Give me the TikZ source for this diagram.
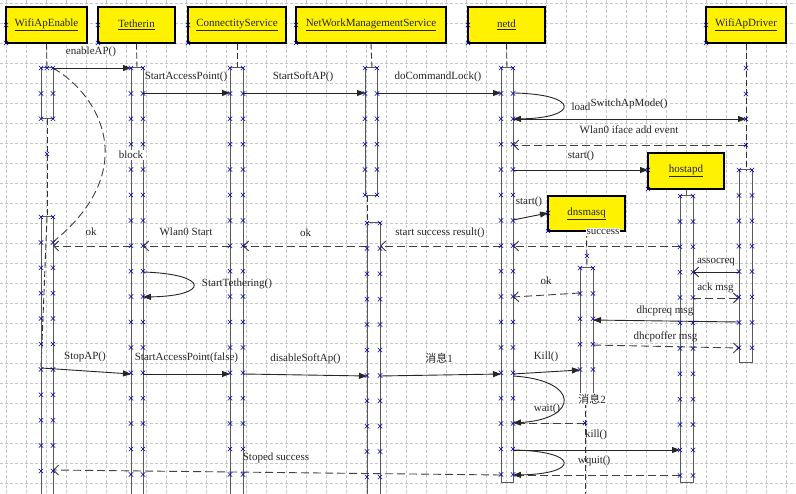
\documentclass[tikz,border=0pt]{standalone}
\usepackage{fontspec}
\setmainfont{Liberation Serif}
\newfontfamily\cjk{Noto Sans CJK SC}
\usetikzlibrary{arrows.meta}
\newcommand{\pxm}[2]{\draw[mk] (#1,#2) ++(-2.2,-2.2) -- ++(4.4,4.4) (#1,#2) ++(-2.2,2.2) -- ++(4.4,-4.4);}
\newcommand{\actmk}[4]{\foreach \k in {0,...,#4}{\pgfmathsetmacro\yy{#3+25.4*\k}\pxm{#1}{\yy}\pxm{#2}{\yy}}}
\begin{document}
\begin{tikzpicture}[x=1pt,y=-1pt,
  hdr/.style={draw=black,line width=1.1pt,fill=yellow,font=\fontsize{11}{13}\selectfont,text=black!85,inner sep=0pt},
  act/.style={draw=black!65,line width=1pt},
  life/.style={draw=black!80,line width=0.9pt,dash pattern=on 6pt off 3pt},
  call/.style={draw=black!85,line width=0.9pt,-{Triangle[length=8pt,width=6pt]}},
  openc/.style={draw=black!85,line width=0.9pt,-{Straight Barb[length=5pt,width=10pt]}},
  ret/.style={draw=black!75,line width=0.9pt,dash pattern=on 8pt off 4pt,-{Straight Barb[length=5pt,width=10pt]}},
  retn/.style={draw=black!75,line width=0.9pt,dash pattern=on 8pt off 4pt},
  lbl/.style={font=\fontsize{11}{13}\selectfont,text=black!85,inner sep=1pt},
  gridln/.style={draw=black!22,line width=0.5pt,dash pattern=on 3pt off 2pt},
  mk/.style={draw=blue!75!black,line width=0.55pt}]
\useasboundingbox (0,0) rectangle (796,494);
\fill[white] (0,0) rectangle (796,494);
% grid
\foreach \gx in {6.7,26.7,...,790} \draw[gridln] (\gx,0) -- (\gx,494);
\foreach \gy in {3.3,23.3,...,494} \draw[gridln] (0,\gy) -- (796,\gy);

% headers
\node[hdr,minimum width=81pt,minimum height=36pt] (wae) at (46.5,25) {\underline{WifiApEnable}};
\node[hdr,minimum width=77pt,minimum height=36pt] (teth) at (136.5,25) {\underline{Tetherin}};
\node[hdr,minimum width=98pt,minimum height=36pt] (cs) at (237,25) {\underline{ConnectityService}};
\node[hdr,minimum width=150pt,minimum height=36pt] (nwms) at (371,25) {\underline{NetWorkManagementService}};
\node[hdr,minimum width=77pt,minimum height=36pt] (netd) at (506.5,25) {\underline{netd}};
\node[hdr,minimum width=80pt,minimum height=36pt] (wad) at (746,25) {\underline{WifiApDriver}};
\node[hdr,minimum width=76pt,minimum height=36pt] (hostapd) at (686,171) {\underline{hostapd}};
\node[hdr,minimum width=77pt,minimum height=35pt] (dnsmasq) at (586.5,213.5) {\underline{dnsmasq}};

% lifelines (dashed parts)
\draw[life] (wae.south) -- (47,68);
\draw[life] (47,119) -- (47,217);
\draw[life] (47,217) -- (41,368);
\draw[life] (teth.south) -- (137,68);
\draw[life] (cs.south) -- (237,68);
\draw[life] (nwms.south) -- (372,68);
\draw[life] (367,196) -- (367,223);
\draw[life] (netd.south) -- (507,68);
\draw[life] (wad.south) -- (746,170);
\draw[act] (hostapd.south) -- (686,196);
\draw[life] (dnsmasq.south) -- (587,268);
\draw[life] (585,393) -- (585,494);

% activation boxes
\draw[act] (41,68) rectangle (53,119);
\draw[act] (41,494) -- (41,217) -- (53,217) -- (53,494);
\draw[act] (131,494) -- (131,68) -- (143,68) -- (143,494);
\draw[act] (230,494) -- (230,68) -- (243,68) -- (243,494);
\draw[act] (365,68) rectangle (377,196);
\draw[act] (367,494) -- (367,223) -- (380,223) -- (380,494);
\draw[act] (501,68) rectangle (513,483);
\draw[act] (739,170) rectangle (752,363);
\draw[act] (680,196) rectangle (693,483);
\draw[act] (580,393) -- (580,268) -- (593,268) -- (593,393);

% white label backgrounds
\node[lbl,fill=white] (lblock) at (131,155) {block};

% calls (solid, filled head)
\foreach \n/\xa/\ya/\xb/\yb in {c1/53/68/131/68, c2/143/93/230/93, c3/243/93/365/93, c4/377/93/501/93,
  c5/513/119/746/119, c6/513/170/648/170, c7/513/220/548/213, c8/41/368/131/374, c9/143/374/230/374,
  c10/243/374/367/376, c11/380/376/501/374, c12/513/374/580/370, c13/513/450/680/450, c14/739/322/593/320}
  {\coordinate (\n a) at (\xa,\ya); \coordinate (\n b) at (\xb,\yb); \draw[call] (\n a) -- (\n b);}
% solid open
\coordinate (o1a) at (739,272); \coordinate (o1b) at (693,272);
\draw[openc] (o1a) -- (o1b);
% returns (dashed, open head)
\foreach \n/\xa/\ya/\xb/\yb in {r1/746/145/513/145, r2/680/246/513/246, r3/501/246/380/246, r4/367/246/243/246,
  r5/230/246/143/246, r6/131/246/53/246, r7/580/293/513/297, r8/693/298/739/298, r9/593/345/739/348,
  r10/501/475/53/470}
  {\coordinate (\n a) at (\xa,\ya); \coordinate (\n b) at (\xb,\yb); \draw[ret] (\n a) -- (\n b);}
% dashed, no head
\foreach \n/\xa/\ya/\xb/\yb in {d1/585/423/513/423, d2/680/475/513/475}
  {\coordinate (\n a) at (\xa,\ya); \coordinate (\n b) at (\xb,\yb); \draw[retn] (\n a) -- (\n b);}

% self messages
\coordinate (s1a) at (513,93); \coordinate (s1b) at (513,119);
\draw[call] (s1a) .. controls (580,94) and (580,118) .. (s1b);
\coordinate (s2a) at (143,272); \coordinate (s2b) at (143,297);
\draw[call] (s2a) .. controls (210,274) and (210,296) .. (s2b);
\coordinate (s3a) at (513,376); \coordinate (s3b) at (513,423);
\draw[call] (s3a) .. controls (580,380) and (580,419) .. (s3b);
\coordinate (s4a) at (513,450); \coordinate (s4b) at (513,475);
\draw[call] (s4a) .. controls (580,451) and (580,474) .. (s4b);
\coordinate (s5a) at (53,68); \coordinate (s5b) at (53,242);
\draw[retn] (s5a) .. controls (100,95) and (142,170) .. (s5b);

% labels
\node[lbl] (t1) at (91,52) {enableAP()};
\node[lbl] (t2) at (186,77) {StartAccessPoint()};
\node[lbl] (t3) at (303,77) {StartSoftAP()};
\node[lbl] (t4) at (438,77) {doCommandLock()};
\node[lbl] (t5a) at (581,107) {load};
\node[lbl] (t5b) at (629,104) {SwitchApMode()};
\node[lbl] (t6) at (629,129.5) {Wlan0 iface add event};
\node[lbl] (t7) at (581,156) {start()};
\node[lbl] (t8) at (529,202) {start()};
\node[lbl,fill=white] (t9) at (603,232) {success};
\node[lbl] (t10) at (91,232) {ok};
\node[lbl] (t11) at (186,232) {Wlan0 Start};
\node[lbl] (t12) at (305.5,232.5) {ok};
\node[lbl] (t13) at (440,232.5) {start success result()};
\node[lbl] (t14) at (237,284) {StartTethering()};
\node[lbl] (t15) at (546,280.5) {ok};
\node[lbl] (t16) at (716,262.5) {assocreq};
\node[lbl] (t17) at (715.5,287.5) {ack msg};
\node[lbl] (t18) at (665,311) {dhcpreq msg};
\node[lbl] (t19) at (665.5,336.5) {dhcpoffer msg};
\node[lbl] (t20) at (85,356.5) {StopAP()};
\node[lbl] (t21) at (186.5,358) {StartAccessPoint(false)};
\node[lbl] (t22) at (305.5,359) {disableSoftAp()};
\node[lbl] (t23) at (439,358) {{\cjk 消息}1};
\node[lbl] (t24) at (546,356.5) {Kill()};
\node[lbl] (t25) at (547,409) {wait()};
\node[lbl,fill=white] (t26) at (592,399) {{\cjk 消息}2};
\node[lbl] (t27) at (596,435) {kill()};
\node[lbl] (t28) at (594,460.5) {wquit()};
\node[lbl] (t29) at (276,457.5) {Stoped success};

% connection point markers
\actmk{41}{53}{68}{2}
\actmk{41}{53}{217}{10}
\actmk{131}{143}{68}{16}
\actmk{230}{243}{68}{16}
\actmk{365}{377}{68}{5}
\actmk{367}{380}{223}{10}
\actmk{501}{513}{68}{16}
\actmk{739}{752}{170}{7}
\actmk{680}{693}{196}{11}
\actmk{580}{593}{268}{4}
\foreach \yy in {68,94,119,145} {\pxm{746}{\yy}}
\pxm{47}{68}\pxm{47}{154}\pxm{587}{256}\pxm{585}{423}
\foreach \xx in {6,98,188,296,468,706} {\pxm{\xx}{25}\pxm{\xx}{43}}
\pxm{648}{170}\pxm{648}{189}\pxm{548}{213}\pxm{548}{231}
\end{tikzpicture}
\end{document}
